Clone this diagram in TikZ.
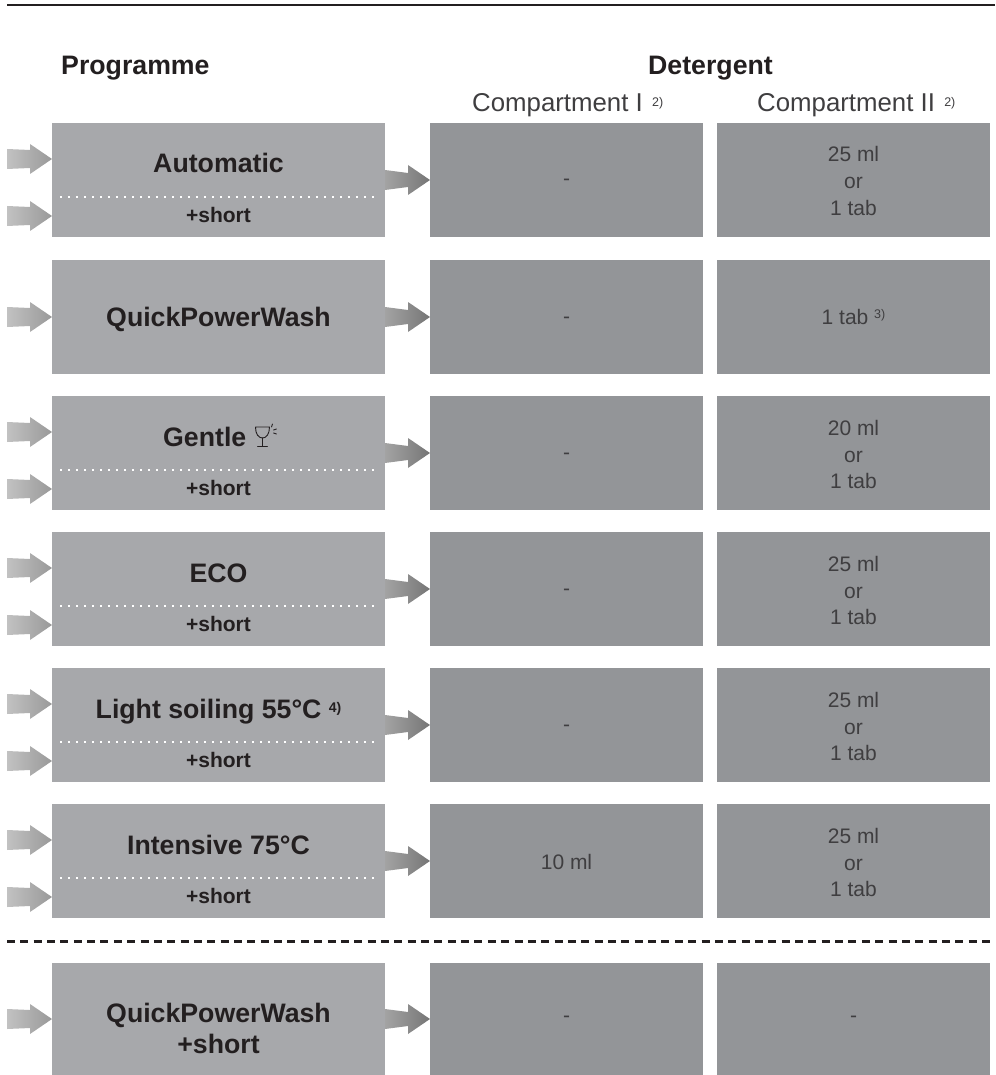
\documentclass[tikz,border=0pt]{standalone}
\usepackage{fontspec}
\setmainfont{Liberation Sans}
\usetikzlibrary{calc}
\definecolor{progbox}{HTML}{A7A8AB}
\definecolor{detbox}{HTML}{939598}
\definecolor{inktext}{HTML}{231F20}
\definecolor{lighttext}{HTML}{3F3E40}
\tikzset{
  x=1pt,y=-1pt,
  cellbox/.style={anchor=north west,inner sep=0pt,outer sep=0pt,minimum height=114pt},
  progcell/.style={cellbox,fill=progbox,minimum width=333pt},
  detcell/.style={cellbox,fill=detbox,minimum width=273pt},
  bigtitle/.style={font=\fontsize{26.7}{30}\selectfont\bfseries,text=inktext,inner sep=0pt,anchor=base west},
  progname/.style={font=\fontsize{26.7}{30}\selectfont\bfseries,text=inktext,inner sep=0pt,anchor=base},
  shortlabel/.style={font=\fontsize{21}{24}\selectfont\bfseries,text=inktext,inner sep=0pt,anchor=base},
  subhead/.style={font=\fontsize{25.8}{30}\selectfont,text=lighttext,inner sep=0pt,anchor=base west},
  dose/.style={font=\fontsize{21}{26}\selectfont,text=lighttext,inner sep=0pt,anchor=base},
  dotline/.style={white,line width=2pt,dash pattern=on 2pt off 6pt},
  inarrow/.style={left color=black!24,right color=black!40},
  outarrow/.style={left color=black!36,right color=black!54},
}
\newcommand{\sscript}[3]{\raisebox{#1}{\fontsize{#2}{#2}\selectfont #3}}
\newcommand{\fatarrow}[4]{% style, free-end coordinate, target point, neck half height
  \path let \p1=(#2), \p2=(#3) in
    [shade,#1] (\x1,\y1-10pt) -- (\x2-22pt,\y2-#4pt) -- (\x2-22pt,\y2-15pt) -- (\x2,\y2)
    -- (\x2-22pt,\y2+15pt) -- (\x2-22pt,\y2+#4pt) -- (\x1,\y1+10pt) -- cycle;}
\newcommand{\rowcells}[2]{% id, top y
  \node[progcell] (p#1) at (52,#2) {};
  \node[detcell] (c#1) at (430,#2) {};
  \node[detcell] (d#1) at (717,#2) {};
}
\newcommand{\onedose}[3]{% node, baseline offset, text
  \node[dose] at ($(#1.north)+(0,#2)$) {#3};}
\newcommand{\threedose}[2]{% node, first line
  \onedose{#1}{39}{#2}
  \onedose{#1}{66}{or}
  \onedose{#1}{92}{1 tab}
}
\newcommand{\shortrow}[1]{%
  \draw[dotline] ($(p#1.north west)+(8,74)$) -- ($(p#1.north east)+(-6,74)$);
  \node[shortlabel] at ($(p#1.north)+(0,99.5)$) {+short};
  \coordinate (ia#1) at ($(p#1.north west)+(-45,36)$);
  \coordinate (ib#1) at ($(p#1.north west)+(-45,93)$);
  \fatarrow{inarrow}{ia#1}{ia#1 -| p#1.west}{9}
  \fatarrow{inarrow}{ib#1}{ib#1 -| p#1.west}{9}
  \coordinate (oa#1) at ($(p#1.north east)+(0,57)$);
  \coordinate (ta#1) at ($(c#1.north west)+(0,57)$);
  \fatarrow{outarrow}{oa#1}{ta#1}{7}
}
\newcommand{\plainrow}[1]{%
  \coordinate (ia#1) at ($(p#1.west)+(-45,0)$);
  \fatarrow{inarrow}{ia#1}{p#1.west}{9}
  \fatarrow{outarrow}{p#1.east}{c#1.west}{7}
}
\begin{document}
\begin{tikzpicture}
\useasboundingbox (0,0) rectangle (995,1075);
\coordinate (rulea) at (7,5.5);
\coordinate (ruleb) at (995,5.5);
\draw[inktext,line width=2pt] (rulea) -- (ruleb);

\node[bigtitle] (h1) at (61,75) {Programme};
\node[bigtitle] (h2) at (648,75) {Detergent};
\node[subhead] (h3) at (472,112) {Compartment I \sscript{5pt}{12.5}{\,2)}};
\node[subhead] (h4) at (757,112) {Compartment II \sscript{5pt}{12.5}{\,2)}};

\rowcells{1}{123}
\rowcells{2}{260}
\rowcells{3}{396}
\rowcells{4}{532}
\rowcells{5}{668}
\rowcells{6}{804}
\node[progcell,minimum height=112pt] (p7) at (52,963) {};
\node[detcell,minimum height=112pt] (c7) at (430,963) {};
\node[detcell,minimum height=112pt] (d7) at (717,963) {};

\onedose{c1}{63}{-}\threedose{d1}{25 ml}
\onedose{c2}{63}{-}\onedose{d2}{64}{1 tab \sscript{6pt}{12.5}{3)}}
\onedose{c3}{63}{-}\threedose{d3}{20 ml}
\onedose{c4}{63}{-}\threedose{d4}{25 ml}
\onedose{c5}{63}{-}\threedose{d5}{25 ml}
\onedose{c6}{65}{10 ml}\threedose{d6}{25 ml}
\onedose{c7}{59}{-}\onedose{d7}{59}{-}

\shortrow{1}\shortrow{3}\shortrow{4}\shortrow{5}\shortrow{6}
\plainrow{2}\plainrow{7}

\node[progname] at ($(p1.north)+(0,50)$) {Automatic};
\node[progname] at ($(p2.north)+(0,66)$) {QuickPowerWash};
\node[progname,anchor=base west] (gentle) at ($(p3.north west)+(111,50)$) {Gentle};
\begin{scope}[shift={(gentle.base east)},inktext,line width=0.9pt,line cap=round]
  \draw (9,-19) -- (23,-19) .. controls (23,-12) and (20,-8) .. (16,-8) .. controls (12,-8) and (9,-12) .. (9,-19);
  \draw (16,-8) -- (16,0) (11,0) -- (21,0);
  \draw (25,-19) -- (26,-22) (27,-16) -- (30,-17) (27,-13) -- (30,-12);
\end{scope}
\node[progname] at ($(p4.north)+(0,50)$) {ECO};
\node[progname] at ($(p5.north)+(0,50)$) {Light soiling 55°C \sscript{6pt}{14}{\bfseries 4)}};
\node[progname] at ($(p6.north)+(0,50)$) {Intensive 75°C};
\node[progname] at ($(p7.north)+(0,59)$) {QuickPowerWash};
\node[progname] at ($(p7.north)+(0,90)$) {+short};

\coordinate (dasha) at (7,941.5);
\coordinate (dashb) at (990,941.5);
\draw[inktext,line width=2.4pt,dash pattern=on 8pt off 5.356pt] (dasha) -- (dashb);
\end{tikzpicture}
\end{document}
